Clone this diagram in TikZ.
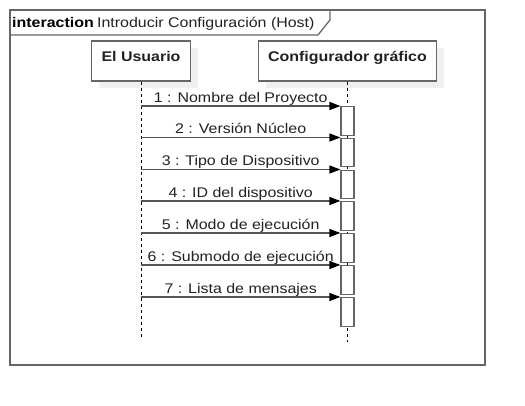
\documentclass[tikz,border=0pt]{standalone}
\usepackage{fontspec}
\setmainfont{Liberation Sans}[FakeStretch=1.14]
\usetikzlibrary{arrows.meta,shadows}

\definecolor{umlgray}{HTML}{666666}
\definecolor{msggray}{HTML}{555555}
\definecolor{shadowgray}{HTML}{F0F0F0}
\definecolor{inkgray}{HTML}{222222}

\begin{document}
\begin{tikzpicture}[
    x=1pt, y=-1pt,
    every node/.append style = {font=\fontsize{14}{16}\selectfont, text=inkgray},
    frameline/.style = {draw=umlgray, line width=1.2pt},
    lifebox/.style = {draw=umlgray, line width=1.2pt, fill=white,
      minimum height=40pt, inner sep=0pt, text height=10pt, text depth=10pt,
      font=\fontsize{14}{16}\selectfont\bfseries,
      general shadow={fill=shadowgray, shadow xshift=7pt, shadow yshift=-7pt}},
    actbox/.style = {draw=umlgray, line width=1.2pt, fill=white,
      minimum width=13pt, minimum height=28.5pt, inner sep=0pt},
    lifeline/.style = {draw=black, line width=0.8pt, dash pattern=on 3pt off 3pt},
    msg/.style = {draw=msggray, line width=1.3pt,
      -{Triangle[length=11pt, width=8pt, color=black]}}
  ]
  \useasboundingbox[fill=white] (0,0) rectangle (525,405);
  % frame and tab
  \draw[frameline] (10,10) rectangle (485,365);
  \draw[frameline] (10,35) -- (318,35) -- (330,20) -- (330,10);
  \node[anchor=base west, inner sep=0pt, font=\fontsize{14}{16}\selectfont\bfseries,
    text=black] (kw) at (12,27) {interaction};
  \node[anchor=base west, inner sep=0pt] (title) at ([xshift=3pt]kw.base east)
    {Introducir Configuración (Host)};
  % lifelines
  \node[lifebox, minimum width=99pt] (user) at (141,61) {El Usuario};
  \node[lifebox, minimum width=178pt] (conf) at (347.5,61) {Configurador gráfico};
  \coordinate (userend) at (141,337);
  \coordinate (confend) at (347.5,342);
  \draw[lifeline] (user.south) -- (userend);
  \draw[lifeline] (conf.south) -- (confend);
  % messages
  \foreach \k/\txt/\y in {1/Nombre del Proyecto/106, 2/Versión Núcleo/137.5,
      3/Tipo de Dispositivo/169.5, 4/ID del dispositivo/201,
      5/Modo de ejecución/233, 6/Submodo de ejecución/265,
      7/Lista de mensajes/297} {
    \node[actbox, anchor=north] (act\k) at (347.5,\y) {};
    \coordinate (src\k) at (141,\y);
    \draw[msg] (src\k) -- node[midway, anchor=base, yshift=4pt, inner sep=0pt]
      (lbl\k) {\k{} : \txt} (act\k.north west);
  }
\end{tikzpicture}
\end{document}
